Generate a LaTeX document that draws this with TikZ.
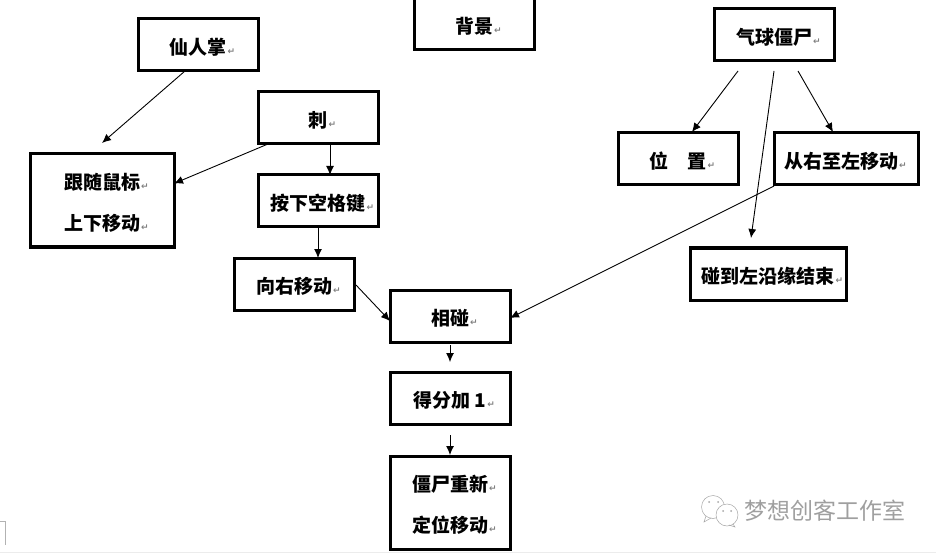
\documentclass[tikz,border=0pt]{standalone}
\usepackage{fontspec}
\setmainfont{Noto Sans CJK SC}
\newfontfamily\symfont{DejaVu Sans}
\usetikzlibrary{arrows.meta}
\newcommand{\linefill}{\rule{0pt}{21pt}}
\newcommand{\retmark}{\linefill\rlap{\kern1pt{\symfont\fontsize{9}{9}\selectfont\color{gray}↵}}}
\tikzset{
	flowbox/.style = {draw, line width=3pt, outer sep=0pt, inner sep=0pt, align=center, font=\fontsize{19}{41}\selectfont\bfseries},
	flowline/.style = {line width=0.9pt, -{Latex[length=9pt,width=8pt]}},
}

\begin{document}
\begin{tikzpicture}[x=1pt, y=-1pt]
		\useasboundingbox (0,0) rectangle (936,553);

		% Draw the boxes of the left side
		\node[flowbox, minimum width=120pt, minimum height=52pt] (xianrenzhang) at (198,45) {仙人掌\retmark};
		\node[flowbox, minimum width=144pt, minimum height=93pt] (gensui) at (102,200.5) {跟随鼠标\retmark\\上下移动\retmark};
		\node[flowbox, minimum width=120pt, minimum height=52pt] (ci) at (318,118) {刺\retmark};
		\node[flowbox, minimum width=120pt, minimum height=52pt] (anxia) at (318,201) {按下空格键\retmark};
		\node[flowbox, minimum width=120pt, minimum height=52pt] (xiangyou) at (294,284) {向右移动\retmark};

		% Draw the background box, cut by the top edge
		\node[flowbox, minimum width=120pt, minimum height=52pt] (beijing) at (474,24) {背景\retmark};

		% Draw the boxes of the right side
		\node[flowbox, minimum width=120pt, minimum height=52pt] (qiqiu) at (774,35) {气球僵尸\retmark};
		\node[flowbox, minimum width=120pt, minimum height=52pt] (weizhi) at (678,159) {位　置\retmark};
		\node[flowbox, minimum width=144pt, minimum height=52pt] (congyou) at (846,159) {从右至左移动\retmark\kern10pt};
		\node[flowbox, minimum width=156pt, minimum height=52pt] (pengdao) at (768,274) {碰到左沿缘结束\retmark};

		% Draw the middle column
		\node[flowbox, minimum width=120pt, minimum height=52pt] (xiangpeng) at (450,316) {相碰\retmark};
		\node[flowbox, minimum width=120pt, minimum height=52pt] (defen) at (450,398) {得分加 1\retmark};
		\node[flowbox, minimum width=120pt, minimum height=93pt] (dingwei) at (450,502.5) {僵尸重新\retmark\\定位移动\retmark};

		% Draw the arrows
		\draw[flowline] ([xshift=-13pt]xianrenzhang.south) -- ([yshift=11pt]gensui.north);
		\draw[flowline] ([xshift=10pt]ci.south west) -- ([yshift=17pt]gensui.east);
		\draw[flowline] ([xshift=12pt]ci.south) -- ([xshift=12pt]anxia.north);
		\draw[flowline] (anxia.south) -- ([xshift=24pt]xiangyou.north);
		\draw[flowline] ([yshift=-1pt]xiangyou.east) ++(2pt,0pt) -- ([yshift=-5pt]xiangpeng.west);
		\draw[flowline] ([yshift=-1pt]congyou.south west) -- ([yshift=-2pt]xiangpeng.east);
		\draw[flowline] ([xshift=-36pt,yshift=-10pt]qiqiu.south) -- ([xshift=14pt,yshift=1pt]weizhi.north);
		\draw[flowline] ([yshift=-10pt]qiqiu.south) -- ([xshift=-17pt,yshift=10pt]pengdao.north);
		\draw[flowline] ([xshift=24pt,yshift=-10pt]qiqiu.south) -- ([xshift=-13pt,yshift=1pt]congyou.north);
		\draw[flowline] ([yshift=-3pt]xiangpeng.south) -- ([yshift=10pt]defen.north);
		\draw[flowline] ([yshift=-11pt]defen.south) -- ([yshift=1pt]dingwei.north);

		% Draw the watermark
		\node[text=gray!75, font=\fontsize{23}{23}\selectfont] (watermark) at (824.5,511) {梦想创客工作室};
		\draw[gray!70, line width=0.5pt, fill=white] (713,507) circle (11.5);
		\draw[gray!70, line width=0.5pt] (706,516) -- (704,522) -- (711,518);
		\draw[gray!70, line width=0.5pt, fill=white] (727,515) circle (11);
		\draw[gray!70, line width=0.5pt] (733,524) -- (735,527) -- (729,525);
		\fill[gray!70] (709,502) circle (1) (718,502) circle (1) (723,511) circle (1) (731,511) circle (1);

		% Draw the page marks at the bottom
		\draw[gray!60, line width=0.7pt] (0,521.5) -- (5.5,521.5) -- (5.5,545);
		\draw[gray!15, line width=1pt] (0,552.5) -- (936,552.5);
\end{tikzpicture}
\end{document}
